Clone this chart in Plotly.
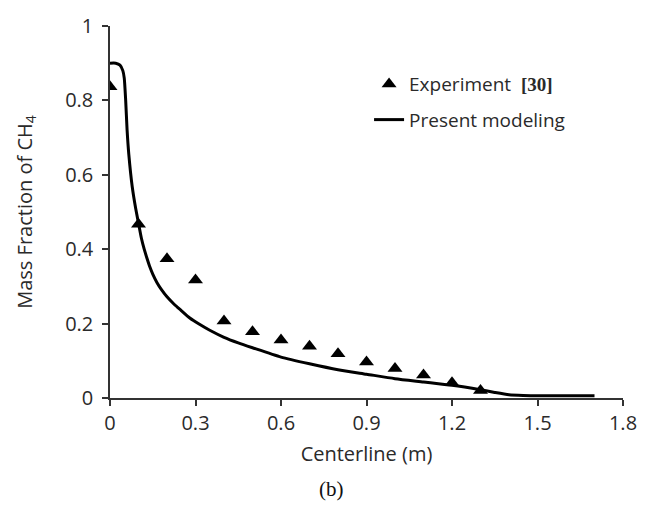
import plotly.graph_objects as go

# Experimental data (triangles)
exp_x = [0.0, 0.1, 0.2, 0.3, 0.4, 0.5, 0.6, 0.7, 0.8, 0.9, 1.0, 1.1, 1.2, 1.3]
exp_y = [0.837, 0.467, 0.374, 0.317, 0.207, 0.178, 0.156, 0.139, 0.119, 0.097, 0.079, 0.062, 0.041, 0.020]

# Present modeling (line)
mod_x = [0.0, 0.02, 0.035, 0.045, 0.05, 0.055, 0.06, 0.066, 0.078, 0.09, 0.1, 0.11, 0.12,
         0.13, 0.14, 0.15, 0.165, 0.18, 0.2, 0.225, 0.25, 0.28, 0.314, 0.35, 0.4, 0.45,
         0.5, 0.6, 0.7, 0.8, 0.9, 1.0, 1.1, 1.2, 1.3, 1.35, 1.4, 1.45, 1.5, 1.6, 1.7]
mod_y = [0.9, 0.9, 0.895, 0.88, 0.86, 0.80, 0.72, 0.655, 0.568, 0.51, 0.47, 0.43, 0.40,
         0.375, 0.352, 0.333, 0.31, 0.292, 0.272, 0.252, 0.235, 0.215, 0.198, 0.182, 0.163, 0.148,
         0.135, 0.110, 0.092, 0.076, 0.064, 0.052, 0.043, 0.034, 0.022, 0.015, 0.009, 0.007,
         0.006, 0.006, 0.006]

x_ticks = [0, 0.3, 0.6, 0.9, 1.2, 1.5, 1.8]
x_ticklabels = ["0", "0.3", "0.6", "0.9", "1.2", "1.5", "1.8"]
y_ticks = [0, 0.2, 0.4, 0.6, 0.8, 1.0]
y_ticklabels = ["0", "0.2", "0.4", "0.6", "0.8", "1"]

FONT = "Open Sans"
AX = "#333333"
TXT = "#2a2a2a"
FS = 20

fig = go.Figure()
fig.add_trace(go.Scatter(
    x=exp_x, y=exp_y, mode="markers",
    marker=dict(symbol="triangle-up", size=13, color="black"),
    name="Experiment  <span style='font-family:Liberation Serif'><b>[30]</b></span>",
    legendgroup="a",
))
fig.add_trace(go.Scatter(
    x=mod_x, y=mod_y, mode="lines", line=dict(color="black", width=3, shape="spline", smoothing=0.6),
    name="Present modeling", legendgroup="b",
))

fig.update_layout(
    width=656, height=509,
    margin=dict(l=110, r=33, t=19, b=111),
    paper_bgcolor="white", plot_bgcolor="white",
    font=dict(family=FONT, size=FS, color=TXT),
    showlegend=True,
    legend=dict(x=0.505, y=0.895, xanchor="left", yanchor="top",
                bgcolor="rgba(0,0,0,0)", font=dict(size=FS - 1, color=TXT),
                tracegroupgap=8, traceorder="grouped"),
    xaxis=dict(range=[0, 1.8], tickvals=x_ticks, ticktext=x_ticklabels,
               showgrid=False, zeroline=False, showline=True, linecolor=AX, linewidth=1.5,
               ticks="outside", ticklen=6, tickcolor=AX, tickwidth=1.5, ticklabelstandoff=0,
               title=dict(text="Centerline (m)", standoff=12, font=dict(size=FS))),
    yaxis=dict(range=[0, 1], tickvals=y_ticks, ticktext=y_ticklabels,
               showgrid=False, zeroline=False, showline=True, linecolor=AX, linewidth=1.5,
               ticks="outside", ticklen=6, tickcolor=AX, tickwidth=1.5, ticklabelstandoff=5,
               title=dict(text="Mass Fraction of CH<sub>4</sub>", standoff=27, font=dict(size=FS))),
    annotations=[dict(text="(b)", x=0.431, y=-0.244, xref="paper", yref="paper",
                      xanchor="center", yanchor="middle", showarrow=False,
                      font=dict(family="Liberation Serif", size=21, color="#111"))],
)

fig.write_html("out.html")
